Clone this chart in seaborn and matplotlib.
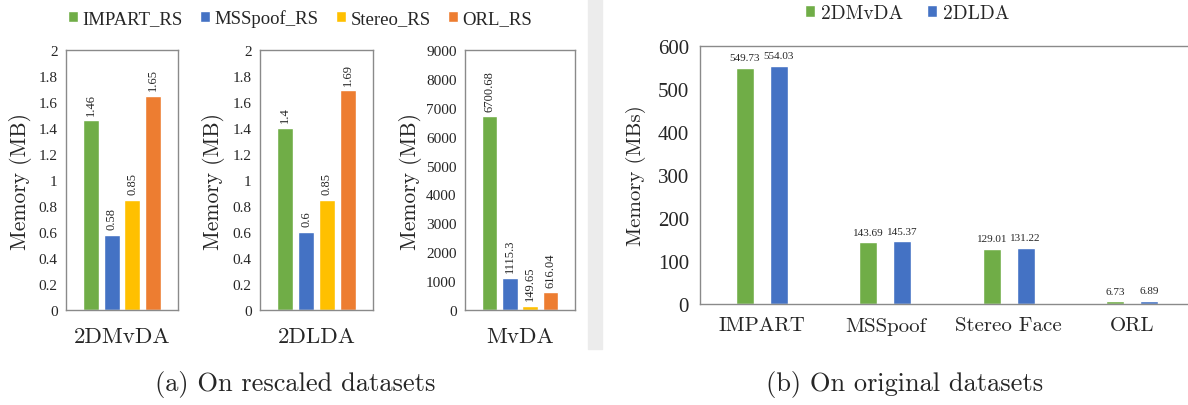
import pandas as pd
import matplotlib
matplotlib.use('Agg')
import matplotlib.pyplot as plt
from matplotlib.patches import Rectangle
import seaborn as sns

# rescaled datasets, memory (MB) per method
methods_rs = ['2DMvDA', '2DLDA', 'MvDA']
datasets_rs = ['IMPART_RS', 'MSSpoof_RS', 'Stereo_RS', 'ORL_RS']
mem_2dmvda_rs = [1.46, 0.58, 0.85, 1.65]
mem_2dlda_rs = [1.4, 0.6, 0.85, 1.69]
mem_mvda_rs = [6700.68, 1115.3, 149.65, 616.04]

# original datasets, memory (MBs)
datasets_orig = ['IMPART', 'MSSpoof', 'Stereo Face', 'ORL']
methods_orig = ['2DMvDA', '2DLDA']
mem_2dmvda_orig = [549.73, 143.69, 129.01, 6.73]
mem_2dlda_orig = [554.03, 145.37, 131.22, 6.89]

colors_rs = ['#70AD47', '#4472C4', '#FFC000', '#ED7D31']
colors_orig = ['#70AD47', '#4472C4']

rows = []
for m, vals in zip(methods_rs, [mem_2dmvda_rs, mem_2dlda_rs, mem_mvda_rs]):
    for d, v in zip(datasets_rs, vals):
        rows.append({'method': m, 'dataset': d, 'memory': v})
df_rs = pd.DataFrame(rows)

rows = []
for m, vals in zip(methods_orig, [mem_2dmvda_orig, mem_2dlda_orig]):
    for d, v in zip(datasets_orig, vals):
        rows.append({'method': m, 'dataset': d, 'memory': v})
df_orig = pd.DataFrame(rows)

sns.set_style('white')
serif = ['Liberation Serif', 'DejaVu Serif']
cm = ['cmr10', 'DejaVu Serif']
plt.rcParams['font.family'] = serif

W, H = 1188, 406
fig = plt.figure(figsize=(W / 100, H / 100), dpi=100)
fig.patches.append(Rectangle((588 / W, 1 - 350 / H), 14 / W, 350 / H,
                             transform=fig.transFigure, color='#ececec', zorder=0))

spine_col = '#8a8a8a'

def style_axes(ax):
    for s in ax.spines.values():
        s.set_visible(True)
        s.set_color(spine_col)
        s.set_linewidth(1.0)
    ax.tick_params(length=0)

# panel (a)
lefts = [66, 260, 465]
widths = [112, 113, 110]
ylims = [(0, 2), (0, 2), (0, 9000)]
steps = [0.2, 0.2, 1000]
label_x = [-0.30, -0.31, -0.39]
handles = None
for i, m in enumerate(methods_rs):
    ax = fig.add_axes([lefts[i] / W, 1 - 311 / H, widths[i] / W, 260 / H])
    sub = df_rs[df_rs['method'] == m]
    sns.barplot(data=sub, x='method', y='memory', hue='dataset',
                hue_order=datasets_rs, palette=colors_rs, width=0.74, gap=0.23,
                errorbar=None, ax=ax, legend=(i == 0), saturation=1)
    if i == 0:
        handles, labels = ax.get_legend_handles_labels()
        ax.get_legend().remove()
    for c in ax.containers:
        ax.bar_label(c, fmt='%g', rotation=90, padding=4, fontsize=9,
                     family=serif)
    ax.set_xlim(-0.5, 0.5)
    lo, hi = ylims[i]
    ax.set_ylim(lo, hi)
    n = int(round((hi - lo) / steps[i]))
    ticks = [lo + k * steps[i] for k in range(n + 1)]
    ax.set_yticks(ticks)
    ax.set_yticklabels(['%g' % round(t, 1) for t in ticks], fontsize=11)
    ax.set_xlabel('')
    ax.set_ylabel('Memory (MB)', fontsize=15.5, family=cm)
    ax.yaxis.set_label_coords(label_x[i], 0.5)
    ax.set_xticks([0])
    ax.set_xticklabels([m], fontsize=16.5, family=cm)
    style_axes(ax)
    ax.tick_params(axis='x', pad=12)
    ax.tick_params(axis='y', pad=6)

fig.legend(handles, labels, loc='center', bbox_to_anchor=(300 / W, 1 - 19 / H),
           ncol=4, frameon=False, fontsize=13.5, handlelength=0.55, handleheight=0.55,
           handletextpad=0.25, columnspacing=0.9)

# panel (b)
axb = fig.add_axes([700 / W, 1 - 305 / H, 494 / W, 258 / H])
sns.barplot(data=df_orig, x='dataset', y='memory', hue='method',
            order=datasets_orig, hue_order=methods_orig, palette=colors_orig,
            width=0.55, gap=0.48, errorbar=None, ax=axb, saturation=1)
hb, lb = axb.get_legend_handles_labels()
axb.get_legend().remove()
for c in axb.containers:
    axb.bar_label(c, fmt='%g', padding=4, fontsize=8, family=serif)
axb.set_ylim(0, 600)
axb.set_yticks(range(0, 601, 100))
axb.set_yticklabels([str(t) for t in range(0, 601, 100)], fontsize=15)
axb.set_xticks(range(len(datasets_orig)))
axb.set_xticklabels(datasets_orig, fontsize=15, family=cm)
axb.set_xlabel('')
axb.set_ylabel('Memory (MBs)', fontsize=15, family=cm)
axb.yaxis.set_label_coords(-0.11, 0.5)
style_axes(axb)
axb.tick_params(axis='x', pad=9)
axb.tick_params(axis='y', pad=8)

fig.legend(hb, lb, loc='center', bbox_to_anchor=(907 / W, 1 - 14 / H),
           ncol=2, frameon=False, handlelength=0.55, handleheight=0.55,
           handletextpad=0.3, columnspacing=1.2, prop={'family': cm, 'size': 14})

fig.text(295 / W, 1 - 385 / H, '(a) On rescaled datasets', ha='center',
         va='center', fontsize=19, family=cm)
fig.text(905 / W, 1 - 385 / H, '(b) On original datasets', ha='center',
         va='center', fontsize=19, family=cm)

fig.savefig('out.png', dpi=100)
